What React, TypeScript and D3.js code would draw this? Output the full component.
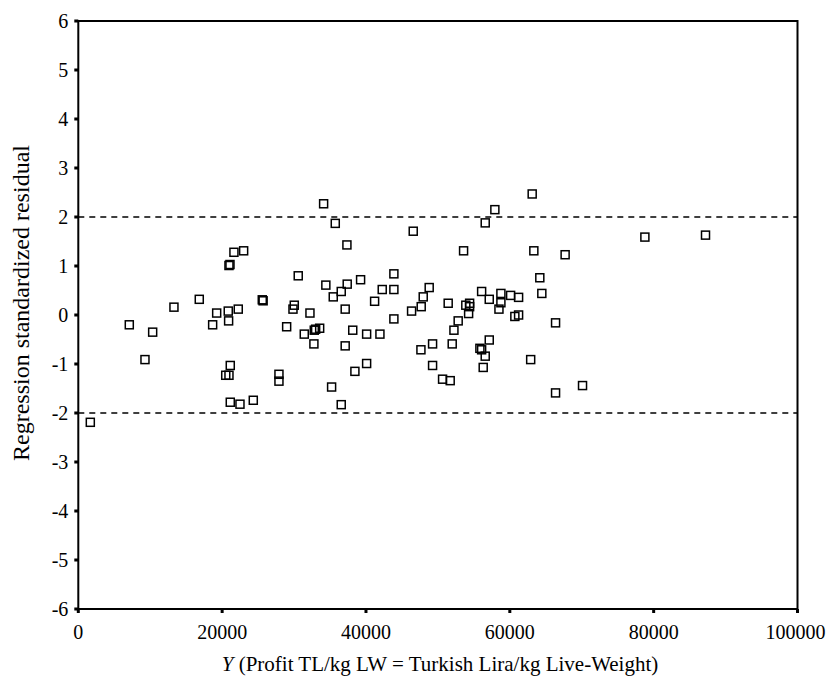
import React from "react";
import { scaleLinear } from "d3";

// profit values (TL/kg LW) and their standardized residuals
const profit = [
  1670, 7090, 10340, 9270, 13300, 16820, 19240, 18680, 20850, 20900, 22240,
  20950, 21090, 21640, 22990, 30580, 25580, 25700, 30030, 29850, 32210, 28970,
  31420, 32810, 33000, 32760, 21130, 20500, 20950, 27900, 27900, 21130, 22480,
  24330, 34110, 35730, 37350, 34420, 37390, 36560, 35450, 39250, 37110, 33560,
  38160, 37110, 40090, 41940, 38460, 40090, 35220, 36560, 43880, 42260, 43880,
  41200, 43880, 46570, 48790, 47960, 47680, 46340, 47640, 49260, 49260, 50650,
  51710, 51430, 51990, 52230, 52820, 53570, 53880, 54410, 54410, 54270, 56580,
  57920, 56080, 57140, 58760, 58760, 58490, 60110, 61220, 60700, 61220, 57140,
  55840, 56080, 56580, 56300, 63110, 63340, 64170, 64450, 62900, 78780, 87210,
  67690, 66360, 66360, 70110,
];
const residual = [
  -2.19, -0.2, -0.35, -0.91, 0.16, 0.32, 0.04, -0.2, 0.08, -0.12, 0.12, 1.01,
  1.03, 1.28, 1.31, 0.8, 0.31, 0.29, 0.2, 0.12, 0.04, -0.24, -0.39, -0.31,
  -0.29, -0.59, -1.03, -1.23, -1.23, -1.21, -1.35, -1.78, -1.82, -1.74, 2.27,
  1.87, 1.43, 0.61, 0.63, 0.48, 0.37, 0.72, 0.12, -0.27, -0.31, -0.63, -0.39,
  -0.39, -1.15, -0.99, -1.47, -1.83, 0.84, 0.52, 0.52, 0.28, -0.08, 1.71, 0.56,
  0.37, 0.17, 0.08, -0.71, -0.59, -1.03, -1.31, -1.34, 0.24, -0.59, -0.31,
  -0.12, 1.31, 0.2, 0.24, 0.17, 0.03, 1.88, 2.15, 0.48, 0.32, 0.44, 0.25, 0.12,
  0.4, 0.36, -0.03, 0.0, -0.51, -0.68, -0.71, -0.84, -1.07, 2.47, 1.31, 0.76,
  0.44, -0.91, 1.59, 1.63, 1.23, -0.16, -1.59, -1.44,
];
const xTicks = [0, 20000, 40000, 60000, 80000, 100000];
const yTicks = [6, 5, 4, 3, 2, 1, 0, -1, -2, -3, -4, -5, -6];
const cutoffs = [2, -2];

const W = 827;
const H = 689;
const serif = "Liberation Serif, Times New Roman, serif";
const txt = { fontFamily: serif, fontSize: 21 };
const yTitleTxt = { fontFamily: serif, fontSize: 24 };
const tickTxt = { fontFamily: serif, fontSize: 20 };

export default function App() {
  const x = scaleLinear().domain([0, 100000]).range([78.3, 797.5]);
  const y = scaleLinear().domain([-6, 6]).range([609, 21]);
  const [x0, x1] = x.range();
  const [y0, y1] = y.range();
  const s = 8;

  return (
    <svg
      width={W}
      height={H}
      style={{ position: "absolute", left: 0, top: 0, background: "#fff" }}
    >
      {/* reference lines */}
      {cutoffs.map((c) => (
        <line
          key={c}
          x1={x0}
          x2={x1}
          y1={y(c)}
          y2={y(c)}
          stroke="#000"
          strokeWidth={1.5}
          strokeDasharray="6,5"
        />
      ))}

      {/* points */}
      {profit.map((p, i) => (
        <rect
          key={i}
          x={x(p) - s / 2}
          y={y(residual[i]) - s / 2}
          width={s}
          height={s}
          fill="none"
          stroke="#000"
          strokeWidth={1.5}
        />
      ))}

      {/* frame */}
      <rect
        x={x0}
        y={y1}
        width={x1 - x0}
        height={y0 - y1}
        fill="none"
        stroke="#000"
        strokeWidth={2}
      />

      {/* y axis */}
      {yTicks.map((t) => (
        <g key={t}>
          <line x1={x0 - 4} x2={x0} y1={y(t)} y2={y(t)} stroke="#000" strokeWidth={3} />
          <text x={x0 - 10} y={y(t)} dy="0.35em" textAnchor="end" style={tickTxt}>
            {t}
          </text>
        </g>
      ))}

      {/* x axis */}
      {xTicks.map((t) => (
        <g key={t}>
          <line x1={x(t)} x2={x(t)} y1={y0} y2={y0 + 4} stroke="#000" strokeWidth={3} />
          <text
            x={t === 100000 ? x(t) - 2 : x(t)}
            y={y0 + 30}
            textAnchor="middle"
            style={tickTxt}
          >
            {t}
          </text>
        </g>
      ))}

      <text
        transform={`translate(29,303) rotate(-90)`}
        textAnchor="middle"
        style={yTitleTxt}
      >
        Regression standardized residual
      </text>
      <text x={440} y={671} textAnchor="middle" style={txt}>
        <tspan fontStyle="italic">Y</tspan> (Profit TL/kg LW = Turkish Lira/kg Live-Weight)
      </text>
    </svg>
  );
}
